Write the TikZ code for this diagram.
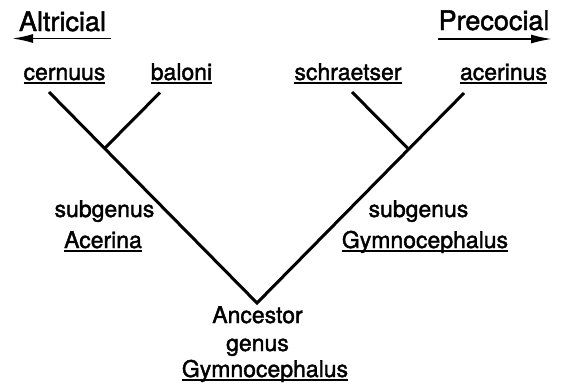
\documentclass[tikz,border=0pt]{standalone}
\usepackage{fontspec}
\setmainfont[FakeBold=1.7]{TeX Gyre Heros}
\usetikzlibrary{arrows.meta}
\newcommand\myul[1]{\setbox0\hbox{#1}\rlap{\rule[-3.5pt]{\wd0}{1.6pt}}\box0}
\tikzset{
  lbl/.style={anchor=base, inner sep=0pt, font=\fontsize{23}{27}\selectfont},
  big/.style={anchor=base, inner sep=0pt, font=\fontsize{27}{31}\selectfont},
  branch/.style={line width=3pt},
  dirarrow/.style={line width=1.8pt, -{Latex[length=21pt,width=9pt]}}
}
\begin{document}
\begin{tikzpicture}[x=1pt,y=-1pt]
\useasboundingbox (0,0) rectangle (566,386);
% headers
\node[big] (alt) at (62.5,31) {Altricial};
\node[big] (pre) at (494,30) {Precocial};
\coordinate (altR) at (111,38.5);
\coordinate (altL) at (12,38.5);
\coordinate (preL) at (438,39);
\coordinate (preR) at (552,39);
\draw[dirarrow] (altR) -- (altL);
\draw[dirarrow] (preL) -- (preR);
% leaves
\node[lbl] (cer) at (64.5,80) {\myul{cernuus}};
\node[lbl] (bal) at (181.5,80) {\myul{baloni}};
\node[lbl] (sch) at (348,80) {\myul{schraetser}};
\node[lbl] (ace) at (503.5,80) {\myul{acerinus}};
% branch points
\coordinate (cerT) at (49,92);
\coordinate (balT) at (160,92.5);
\coordinate (schT) at (352,92);
\coordinate (aceT) at (464,93);
\coordinate (jL) at (105.5,147.5);
\coordinate (jR) at (407.5,148);
\coordinate (apex) at (257,303);
\draw[branch, line join=miter] (cerT) -- (apex) -- (aceT);
\draw[branch] (balT) -- (jL);
\draw[branch] (schT) -- (jR);
% subgenus labels
\node[lbl] (sgL) at (104.5,217) {subgenus};
\node[lbl] (acr) at (103,248) {\myul{Acerina}};
\node[lbl] (sgR) at (418.5,217) {subgenus};
\node[lbl] (gymR) at (425,248) {\myul{Gymnocephalus}};
% ancestor
\node[lbl] (anc) at (257.5,323) {Ancestor};
\node[lbl] (gen) at (257.5,351) {genus};
\node[lbl] (gymA) at (265,377) {\myul{Gymnocephalus}};
\end{tikzpicture}
\end{document}
